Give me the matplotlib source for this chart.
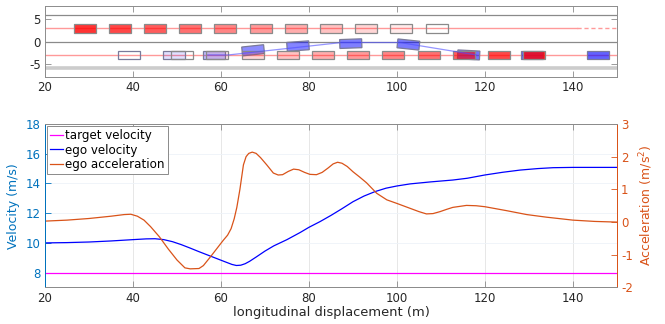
import matplotlib
matplotlib.use("Agg")
import matplotlib.pyplot as plt
from matplotlib.patches import Rectangle
from matplotlib.transforms import Affine2D

plt.rcParams['font.family'] = ['DejaVu Sans']
plt.rcParams['axes.unicode_minus'] = False

# ---------------- data ----------------
# top panel: lane geometry
lane_center_y = [3, -3]
lane_lines_y = [6, 0]
road_edge_y = -6
car_length = 5
car_width = 2

# vehicle in left lane (snapshots)
left_car_x = [29, 37, 45, 53, 61, 69, 77, 85, 93, 101, 109]
left_car_y = [3] * 11
left_car_alpha = [0.8, 0.72, 0.64, 0.56, 0.48, 0.4, 0.32, 0.24, 0.16, 0.08, 0.0]

# lead vehicle in right lane (snapshots)
lead_car_x = [51.2, 59.2, 67.2, 75.2, 83.2, 91.2, 99.2, 107.2, 115.2, 123.2, 131.2]
lead_car_y = [-3] * 11
lead_car_alpha = [0.0, 0.08, 0.16, 0.24, 0.32, 0.4, 0.48, 0.56, 0.64, 0.72, 0.8]

# ego vehicle (snapshots)
ego_x = [39.1, 49.3, 58.5, 67.3, 77.5, 89.5, 102.6, 116.3, 130.8, 145.6]
ego_y = [-3, -3, -3, -1.95, -1.0, -0.45, -0.65, -3.0, -3, -3]
ego_heading = [0, 0, 0, 6, 4, 2, -6, -3, 0, 0]
ego_alpha = [0.0, 0.12, 0.25, 0.45, 0.48, 0.5, 0.52, 0.55, 0.62, 0.62]

# ego planned path
ego_path_x = [57, 61.7, 87.4, 100.7, 118]
ego_path_y = [-3, -3, -0.2, -0.2, -3]

# bottom panel
vel_x = [20, 25, 30, 35, 40, 43, 45, 47, 49, 51, 53, 55, 57, 59, 61, 62.5, 63.5, 64.5,
         65.5, 66.5, 68, 70, 72, 75, 78, 80, 82.5, 85, 87.5, 90, 92.5, 95, 97.5, 100,
         103, 107.5, 112.7, 116, 120, 124, 128, 132, 135.5, 140, 150]
ego_velocity = [10.0, 10.02, 10.06, 10.13, 10.22, 10.27, 10.28, 10.22, 10.08, 9.88, 9.65,
                9.41, 9.18, 8.95, 8.72, 8.55, 8.48, 8.5, 8.6, 8.76, 9.05, 9.45, 9.8, 10.22,
                10.7, 11.05, 11.43, 11.85, 12.3, 12.77, 13.15, 13.45, 13.68, 13.83, 13.97,
                14.1, 14.23, 14.35, 14.57, 14.75, 14.9, 15.0, 15.06, 15.08, 15.08]

target_x = [20, 150]
target_velocity = [8, 8]

acc_x = [20, 25, 30, 35, 38, 39.5, 41, 42.5, 44, 46, 48, 50, 51.8, 53, 55, 56, 57.5, 59,
         60.5, 61.5, 62.3, 63, 63.6, 64.3, 65.1, 65.7, 66.3, 67.1, 68, 69, 70.4, 71.9,
         73, 74, 75.3, 76.5, 77.7, 79, 80.2, 81.7, 83, 84.4, 85.5, 86.5, 87.5, 88.7, 90,
         91.5, 93.1, 95.4, 97.7, 100, 103, 105, 106.7, 108.2, 109.8, 111.3, 112.7, 115.8,
         118, 120, 124.9, 129.5, 134, 140, 145, 150]
ego_acceleration = [0.03, 0.06, 0.11, 0.18, 0.23, 0.24, 0.18, 0.06, -0.14, -0.45, -0.82,
                    -1.16, -1.40, -1.43, -1.42, -1.33, -1.08, -0.82, -0.56, -0.4, -0.2,
                    0.1, 0.45, 1.0, 1.75, 2.0, 2.1, 2.14, 2.1, 1.97, 1.75, 1.5, 1.44, 1.45,
                    1.55, 1.62, 1.6, 1.52, 1.46, 1.45, 1.52, 1.66, 1.78, 1.83, 1.8, 1.7,
                    1.54, 1.38, 1.2, 0.88, 0.68, 0.57, 0.42, 0.32, 0.25, 0.26, 0.32, 0.39,
                    0.45, 0.51, 0.5, 0.47, 0.35, 0.23, 0.15, 0.06, 0.02, 0.0]

x_ticks = [20, 40, 60, 80, 100, 120, 140]
vel_ticks = [8, 10, 12, 14, 16, 18]
acc_ticks = [-2, -1, 0, 1, 2, 3]

# ---------------- style ----------------
BLUE_AX = '#0072BD'
ORANGE = '#D95319'
TXT = '#262626'
SPINE = '#8c8c8c'

fig = plt.figure(figsize=(6.65, 3.24), dpi=100)

# ---------------- top panel ----------------
ax1 = fig.add_axes([0.0677, 0.762, 0.860, 0.219])
ax1.set_xlim(20, 150)
ax1.set_ylim(-8, 8)

for yl in lane_lines_y:
    ax1.axhline(yl, color='#8a8a8a', lw=0.9, zorder=1)
ax1.axhline(road_edge_y, color='#cccccc', lw=2.6, zorder=1)
ax1.plot([20, 141], [lane_center_y[0]] * 2, color='#ff9999', lw=1.0, zorder=1)
ax1.plot([141, 150], [lane_center_y[0]] * 2, color='#ff9999', lw=1.0, ls=(0, (3, 2)), zorder=1)
ax1.plot([20, 150], [lane_center_y[1]] * 2, color='#ff9999', lw=1.0, zorder=1)


def car(ax, x, y, heading, rgb, alpha, edge, z):
    r = Rectangle((x - car_length / 2, y - car_width / 2), car_length, car_width,
                  facecolor=(*rgb, alpha), edgecolor=edge, lw=0.9, zorder=z)
    r.set_transform(Affine2D().rotate_deg_around(x, y, heading) + ax.transData)
    ax.add_patch(r)


for x, y, a in zip(left_car_x, left_car_y, left_car_alpha):
    car(ax1, x, y, 0, (1, 0, 0), a, '#8a8a8a', 2)
for x, y, h, a in zip(ego_x, ego_y, ego_heading, ego_alpha):
    car(ax1, x, y, h, (0, 0, 1), a, '#7a7a9a', 3)
for x, y, a in zip(lead_car_x, lead_car_y, lead_car_alpha):
    car(ax1, x, y, 0, (1, 0, 0), a, '#8a8a8a', 4)
ax1.plot(ego_path_x, ego_path_y, color=(0.3, 0.3, 1.0), alpha=0.6, lw=0.9, zorder=5)

ax1.set_xticks(x_ticks)
ax1.set_yticks([-5, 0, 5])
ax1.tick_params(direction='in', length=4, width=0.6, colors='#8a8a8a',
                labelcolor=TXT, labelsize=8.5, top=True, right=True, pad=3)
for s in ax1.spines.values():
    s.set_color(SPINE)
    s.set_linewidth(0.7)

# ---------------- bottom panel ----------------
ax2 = fig.add_axes([0.0677, 0.1127, 0.860, 0.5046])
ax3 = ax2.twinx()
ax2.set_xlim(20, 150)
ax2.set_ylim(7, 18)
ax3.set_ylim(-2, 3)

ax2.set_xticks(x_ticks)
ax2.set_yticks(vel_ticks)
ax3.set_yticks(acc_ticks)
ax2.grid(axis='x', color='#e3e3e3', lw=0.6)
ax2.grid(axis='y', color='#eef3f8', lw=0.6)
ax2.set_axisbelow(True)

l1, = ax2.plot(target_x, target_velocity, color='#FF00FF', lw=0.9, label='target velocity')
l2, = ax2.plot(vel_x, ego_velocity, color='#0000FF', lw=0.9, label='ego velocity')
l3, = ax3.plot(acc_x, ego_acceleration, color=ORANGE, lw=0.9, label='ego acceleration')

ax2.tick_params(axis='x', direction='in', length=4, width=0.6, colors='#8a8a8a',
                labelcolor=TXT, labelsize=8.5, top=True, pad=3)
ax2.tick_params(axis='y', direction='in', length=4, width=0.6, colors=BLUE_AX,
                labelsize=8.5, pad=3)
ax3.tick_params(axis='y', direction='in', length=4, width=0.6, colors=ORANGE,
                labelsize=8.5, pad=3)
for ax in (ax2, ax3):
    ax.spines['top'].set_color(SPINE)
    ax.spines['bottom'].set_color(SPINE)
    ax.spines['left'].set_color(BLUE_AX)
    ax.spines['right'].set_color(ORANGE)
    for s in ax.spines.values():
        s.set_linewidth(0.7)

ax2.set_xlabel('longitudinal displacement (m)', fontsize=9.4, color=TXT, labelpad=1)
ax2.set_ylabel('Velocity (m/s)', fontsize=9, color=BLUE_AX, labelpad=4)
ax3.set_ylabel('Acceleration (m/s$^2$)', fontsize=9, color=ORANGE, labelpad=3)

leg = ax3.legend(handles=[l1, l2, l3], loc='upper left', fontsize=8.6,
                 handlelength=1.1, handletextpad=0.2, borderpad=0.25,
                 labelspacing=0.15, borderaxespad=0.15, fancybox=False,
                 framealpha=1, edgecolor='#8a8a8a')
leg.get_frame().set_linewidth(0.7)

fig.savefig('out.png', dpi=100)
